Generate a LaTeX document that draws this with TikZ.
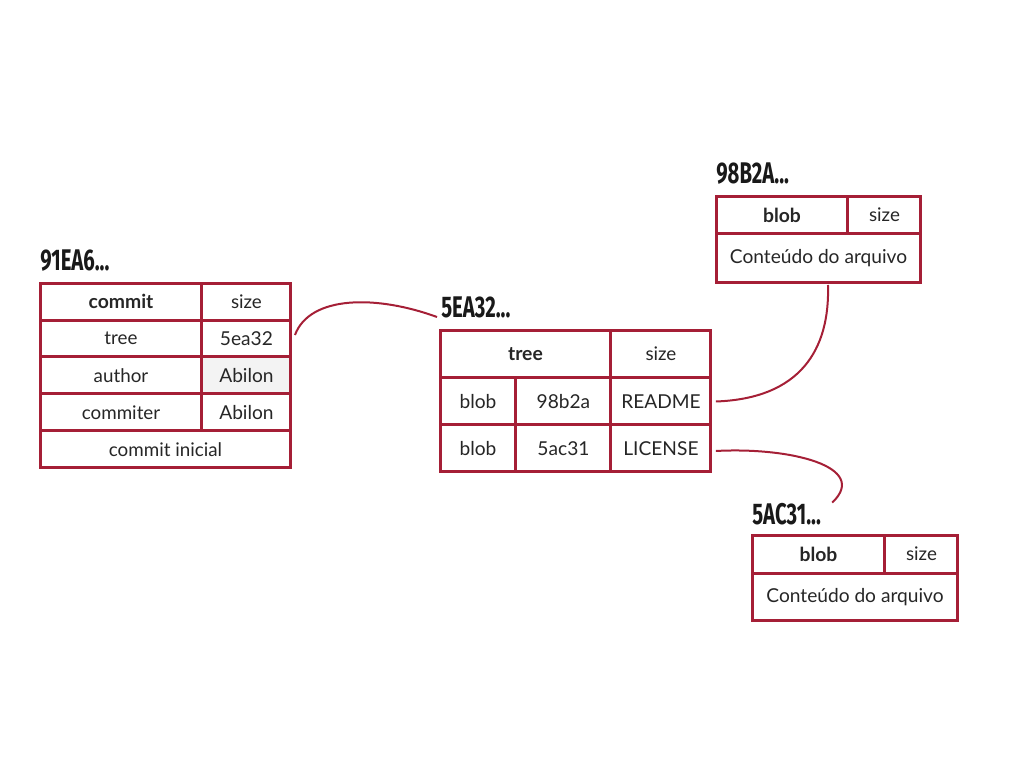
\documentclass[tikz,border=0pt]{standalone}
\usepackage{fontspec}
\setmainfont{Lato}
\newfontfamily\hashfont{Fira Sans}
\usetikzlibrary{positioning}
\definecolor{gitred}{HTML}{A51F36}
\definecolor{cellgray}{HTML}{F3F3F3}

\begin{document}
\begin{tikzpicture}[x=0.02cm,y=-0.02cm,
    cell/.style={draw=gitred,line width=0.06cm,outer sep=0pt,inner sep=0pt,
      minimum height=0.74cm,align=center,text=black!85,font=\fontsize{10.7}{12}\selectfont},
    val/.style={cell,font=\fontsize{10.9}{12}\selectfont},
    head/.style={cell,font=\fontsize{11}{12}\selectfont\bfseries},
    hash/.style={inner sep=0pt,anchor=south west,text=black!90,
      font=\hashfont\bfseries\fontsize{17}{17}\selectfont},
    link/.style={gitred,line width=0.04cm}]
  \useasboundingbox (0,0) rectangle (1024,768);
  % commit 91EA6
  \node[hash](c-hash) at (40,272){\scalebox{0.68}[1]{91EA6...}};
  \node[head,minimum width=3.24cm,anchor=north west](c-commit) at (40,283){commit};
  \node[cell,minimum width=1.78cm,right=0pt of c-commit](c-size){size};
  \node[cell,minimum width=3.24cm,below=0pt of c-commit](c-tree){tree};
  \node[val,minimum width=1.78cm,right=0pt of c-tree](c-treeval){5ea32};
  \node[cell,minimum width=3.24cm,below=0pt of c-tree](c-author){author};
  \node[val,fill=cellgray,minimum width=1.78cm,right=0pt of c-author](c-authorval){Abilon};
  \node[cell,minimum width=3.24cm,below=0pt of c-author](c-commiter){commiter};
  \node[val,minimum width=1.78cm,right=0pt of c-commiter](c-commiterval){Abilon};
  \node[cell,minimum width=5.02cm,anchor=north west](c-msg) at (c-commiter.south west){commit inicial};
  % tree 5EA32
  \node[hash](t-hash) at (441,318){\scalebox{0.68}[1]{5EA32...}};
  \node[head,minimum width=3.42cm,minimum height=0.96cm,anchor=north west](t-tree) at (440,330){tree};
  \node[cell,minimum width=2cm,minimum height=0.96cm,right=0pt of t-tree](t-size){size};
  \node[val,minimum width=1.52cm,minimum height=0.94cm,anchor=north west](t-blob1) at (t-tree.south west){blob};
  \node[val,minimum width=1.9cm,minimum height=0.94cm,right=0pt of t-blob1](t-id1){98b2a};
  \node[val,minimum width=2cm,minimum height=0.94cm,right=0pt of t-id1](t-name1){README};
  \node[val,minimum width=1.52cm,minimum height=0.94cm,below=0pt of t-blob1](t-blob2){blob};
  \node[val,minimum width=1.9cm,minimum height=0.94cm,right=0pt of t-blob2](t-id2){5ac31};
  \node[val,minimum width=2cm,minimum height=0.94cm,right=0pt of t-id2](t-name2){LICENSE};
  % blob 98B2A
  \node[hash](a-hash) at (716,185){\scalebox{0.68}[1]{98B2A...}};
  \node[head,minimum width=2.64cm,minimum height=0.76cm,anchor=north west](a-blob) at (716,196){blob};
  \node[cell,minimum width=1.46cm,minimum height=0.76cm,right=0pt of a-blob](a-size){size};
  \node[val,minimum width=4.1cm,minimum height=0.98cm,anchor=north west](a-data) at (a-blob.south west){Conteúdo do arquivo};
  % blob 5AC31
  \node[hash](b-hash) at (752,525){\scalebox{0.68}[1]{5AC31...}};
  \node[head,minimum width=2.66cm,minimum height=0.76cm,anchor=north west](b-blob) at (752,535){blob};
  \node[cell,minimum width=1.46cm,minimum height=0.76cm,right=0pt of b-blob](b-size){size};
  \node[val,minimum width=4.12cm,minimum height=0.96cm,anchor=north west](b-data) at (b-blob.south west){Conteúdo do arquivo};
  % links
  \draw[link]([xshift=0.08cm,yshift=0.07cm]c-treeval.east) .. controls +(15,-40) and +(-60,-22) .. ([xshift=-0.08cm,yshift=0.02cm]t-hash.south west);
  \draw[link]([xshift=0.1cm]t-name1.east) .. controls +(84,-3) and +(2,65) .. ([xshift=0.19cm,yshift=-0.04cm]a-data.south);
  \draw[link]([xshift=0.1cm,yshift=-0.05cm]t-name2.east) .. controls +(74,-4) and +(38,-36) .. ([xshift=0.22cm]b-hash.north east);
\end{tikzpicture}
\end{document}
